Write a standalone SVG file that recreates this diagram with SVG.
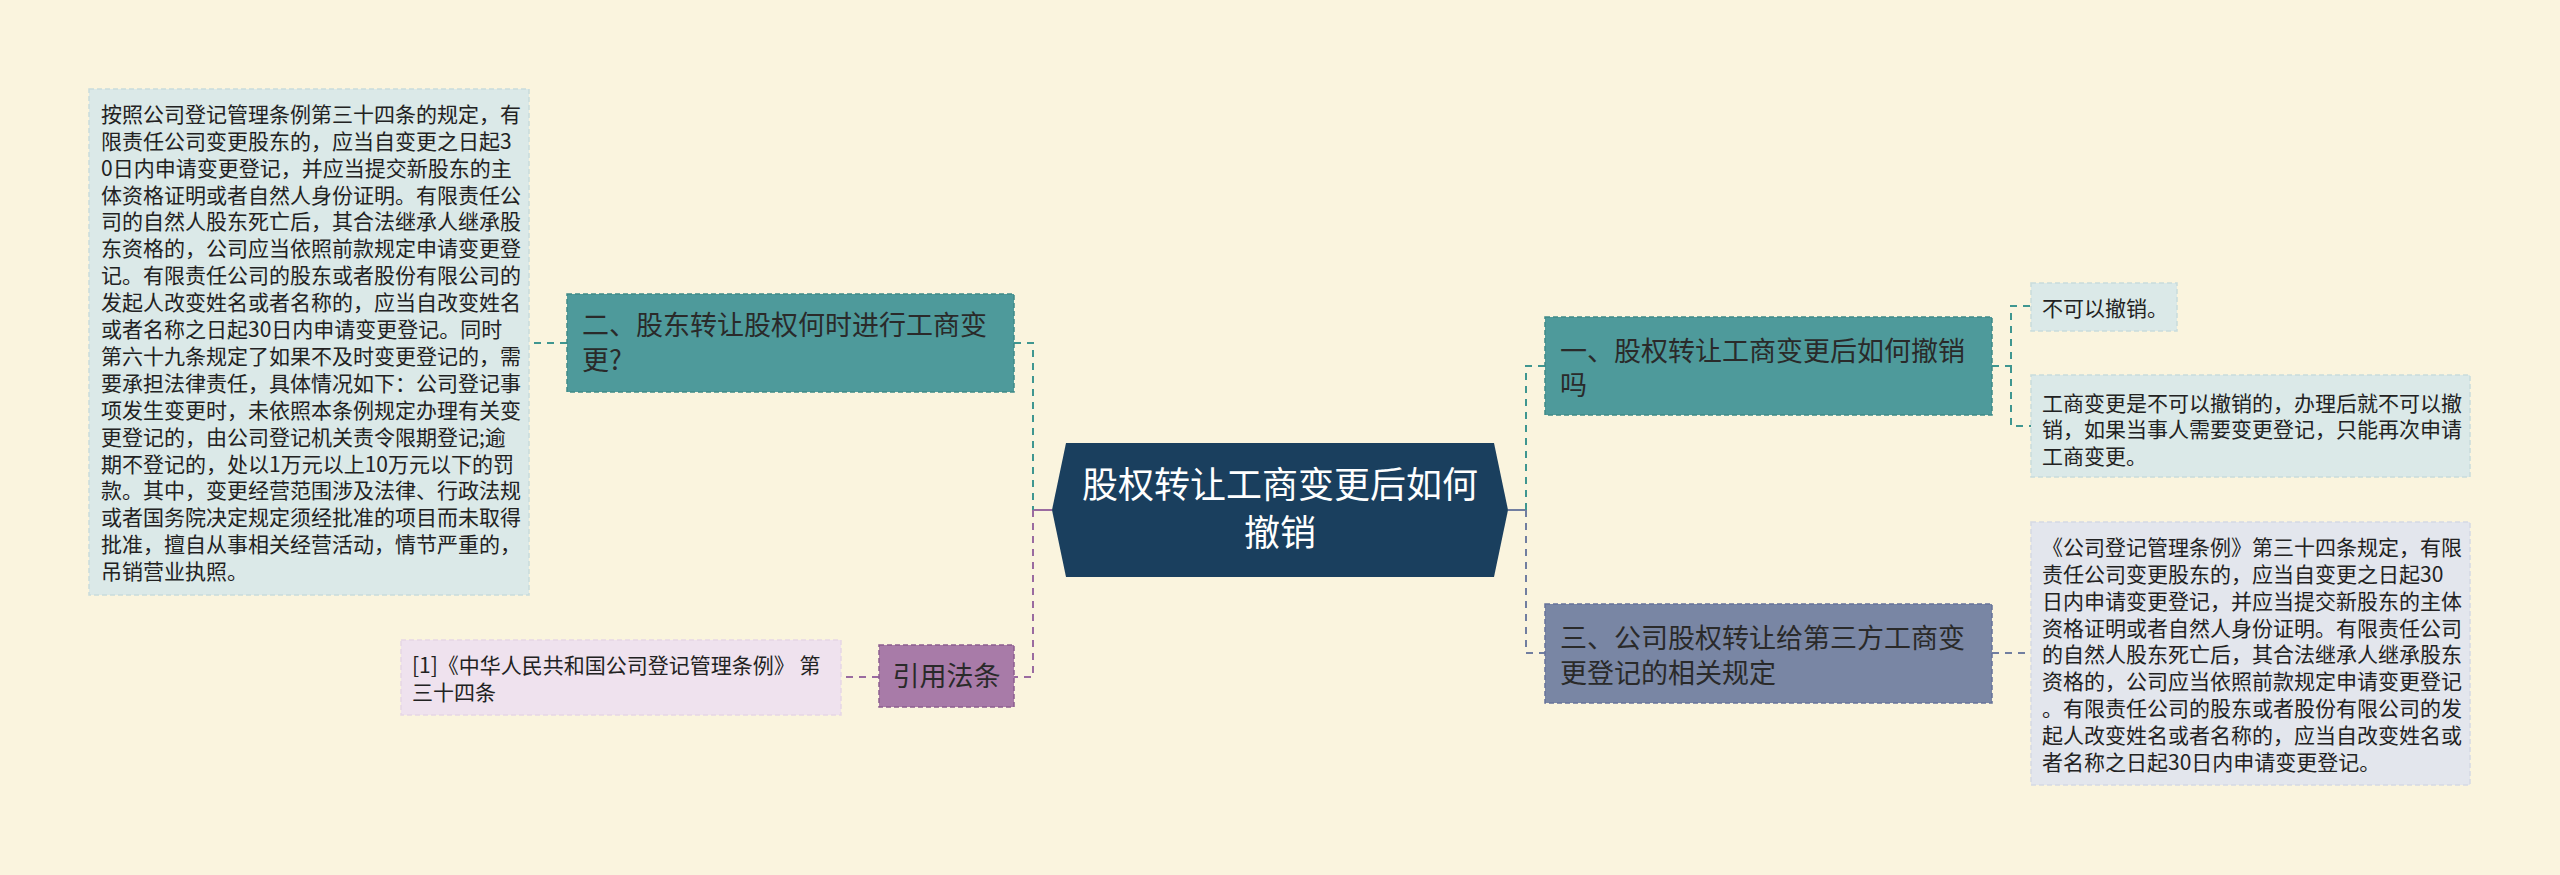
<svg xmlns="http://www.w3.org/2000/svg" width="2560" height="875" viewBox="0 0 2560 875">
<style>
text{font-family:"Noto Sans CJK SC","Noto Sans",sans-serif;}
.leaf{font-size:21px;fill:#222;}
.node{font-size:27px;fill:#2a2a2a;}
.ct{font-size:36px;fill:#ffffff;}
.c{fill:none;stroke-width:2;stroke-dasharray:7,6;}
.teal{stroke:#3f9690;}
.slate{stroke:#717ea0;}
.purp{stroke:#9a6ba0;}
.lb{fill:#dbe9e8;stroke:#c9dcdc;stroke-width:1.5;stroke-dasharray:5,3;}
</style>
<rect x="0" y="0" width="2560" height="875" fill="#faf4de"/>
<g id="connectors">
  <path class="c purp" d="M1052,510 H1033" style="stroke-dasharray:none"/>
  <path class="c teal" d="M1014,343 H1033 V510"/>
  <path class="c purp" d="M1033,510 V677 H1014"/>
  <path class="c teal" d="M567,343 H529"/>
  <path class="c purp" d="M879,677 H841"/>
  <path class="c slate" d="M1508,510 H1526" style="stroke-dasharray:none"/>
  <path class="c teal" d="M1526,510 V366 H1545"/>
  <path class="c slate" d="M1526,510 V653 H1545"/>
  <path class="c teal" d="M1992,366 H2011 V306 H2031"/>
  <path class="c teal" d="M2011,366 V426 H2031"/>
  <path class="c slate" d="M1992,653 H2031"/>
</g>
<g id="center">
  <polygon points="1052,510 1066,443 1494,443 1508,510 1494,577 1066,577" fill="#1a3f5e"/>
  <text class="ct" x="1280" y="498" text-anchor="middle">股权转让工商变更后如何</text>
  <text class="ct" x="1280" y="546" text-anchor="middle">撤销</text>
</g>
<g id="node-2">
  <rect x="567" y="294" width="447" height="98" fill="#4e9a9b" stroke="#3f8a88" stroke-width="1.5" stroke-dasharray="5,3"/>
  <text class="node" x="582" y="335">二、股东转让股权何时进行工商变</text>
  <text class="node" x="582" y="370">更?</text>
</g>
<g id="leaf-2">
  <rect class="lb" x="89" y="89" width="440" height="506"/>
  <text class="leaf" x="101" y="122">按照公司登记管理条例第三十四条的规定，有</text>
  <text class="leaf" x="101" y="149">限责任公司变更股东的，应当自变更之日起3</text>
  <text class="leaf" x="101" y="176">0日内申请变更登记，并应当提交新股东的主</text>
  <text class="leaf" x="101" y="203">体资格证明或者自然人身份证明。有限责任公</text>
  <text class="leaf" x="101" y="229">司的自然人股东死亡后，其合法继承人继承股</text>
  <text class="leaf" x="101" y="256">东资格的，公司应当依照前款规定申请变更登</text>
  <text class="leaf" x="101" y="283">记。有限责任公司的股东或者股份有限公司的</text>
  <text class="leaf" x="101" y="310">发起人改变姓名或者名称的，应当自改变姓名</text>
  <text class="leaf" x="101" y="337">或者名称之日起30日内申请变更登记。同时</text>
  <text class="leaf" x="101" y="364">第六十九条规定了如果不及时变更登记的，需</text>
  <text class="leaf" x="101" y="391">要承担法律责任，具体情况如下：公司登记事</text>
  <text class="leaf" x="101" y="418">项发生变更时，未依照本条例规定办理有关变</text>
  <text class="leaf" x="101" y="445">更登记的，由公司登记机关责令限期登记;逾</text>
  <text class="leaf" x="101" y="472">期不登记的，处以1万元以上10万元以下的罚</text>
  <text class="leaf" x="101" y="498">款。其中，变更经营范围涉及法律、行政法规</text>
  <text class="leaf" x="101" y="525">或者国务院决定规定须经批准的项目而未取得</text>
  <text class="leaf" x="101" y="552">批准，擅自从事相关经营活动，情节严重的，</text>
  <text class="leaf" x="101" y="579">吊销营业执照。</text>
</g>
<g id="node-law">
  <rect x="879" y="645" width="135" height="62" fill="#a87ba8" stroke="#8c5d8e" stroke-width="1.5" stroke-dasharray="5,3"/>
  <text class="node" x="946.5" y="686" text-anchor="middle">引用法条</text>
</g>
<g id="leaf-law">
  <rect x="401" y="640" width="440" height="75" fill="#efe2ee" stroke="#e6d6e5" stroke-width="1.5" stroke-dasharray="5,3"/>
  <text class="leaf" x="412" y="673">[1]《中华人民共和国公司登记管理条例》 第</text>
  <text class="leaf" x="412" y="700">三十四条</text>
</g>
<g id="node-1">
  <rect x="1545" y="317" width="447" height="98" fill="#4e9a9b" stroke="#3f8a88" stroke-width="1.5" stroke-dasharray="5,3"/>
  <text class="node" x="1560" y="361">一、股权转让工商变更后如何撤销</text>
  <text class="node" x="1560" y="395">吗</text>
</g>
<g id="leaf-1a">
  <rect class="lb" x="2031" y="283" width="146" height="48"/>
  <text class="leaf" x="2042" y="316">不可以撤销。</text>
</g>
<g id="leaf-1b">
  <rect class="lb" x="2031" y="375" width="439" height="102"/>
  <text class="leaf" x="2042" y="411">工商变更是不可以撤销的，办理后就不可以撤</text>
  <text class="leaf" x="2042" y="437">销，如果当事人需要变更登记，只能再次申请</text>
  <text class="leaf" x="2042" y="464">工商变更。</text>
</g>
<g id="node-3">
  <rect x="1545" y="604" width="447" height="99" fill="#7986a4" stroke="#67739a" stroke-width="1.5" stroke-dasharray="5,3"/>
  <text class="node" x="1560" y="648">三、公司股权转让给第三方工商变</text>
  <text class="node" x="1560" y="683">更登记的相关规定</text>
</g>
<g id="leaf-3">
  <rect x="2031" y="522" width="439" height="263" fill="#e3e6ed" stroke="#d5d9e3" stroke-width="1.5" stroke-dasharray="5,3"/>
  <text class="leaf" x="2042" y="555">《公司登记管理条例》第三十四条规定，有限</text>
  <text class="leaf" x="2042" y="582">责任公司变更股东的，应当自变更之日起30</text>
  <text class="leaf" x="2042" y="609">日内申请变更登记，并应当提交新股东的主体</text>
  <text class="leaf" x="2042" y="636">资格证明或者自然人身份证明。有限责任公司</text>
  <text class="leaf" x="2042" y="662">的自然人股东死亡后，其合法继承人继承股东</text>
  <text class="leaf" x="2042" y="689">资格的，公司应当依照前款规定申请变更登记</text>
  <text class="leaf" x="2042" y="716">。有限责任公司的股东或者股份有限公司的发</text>
  <text class="leaf" x="2042" y="743">起人改变姓名或者名称的，应当自改变姓名或</text>
  <text class="leaf" x="2042" y="770">者名称之日起30日内申请变更登记。</text>
</g>
</svg>
